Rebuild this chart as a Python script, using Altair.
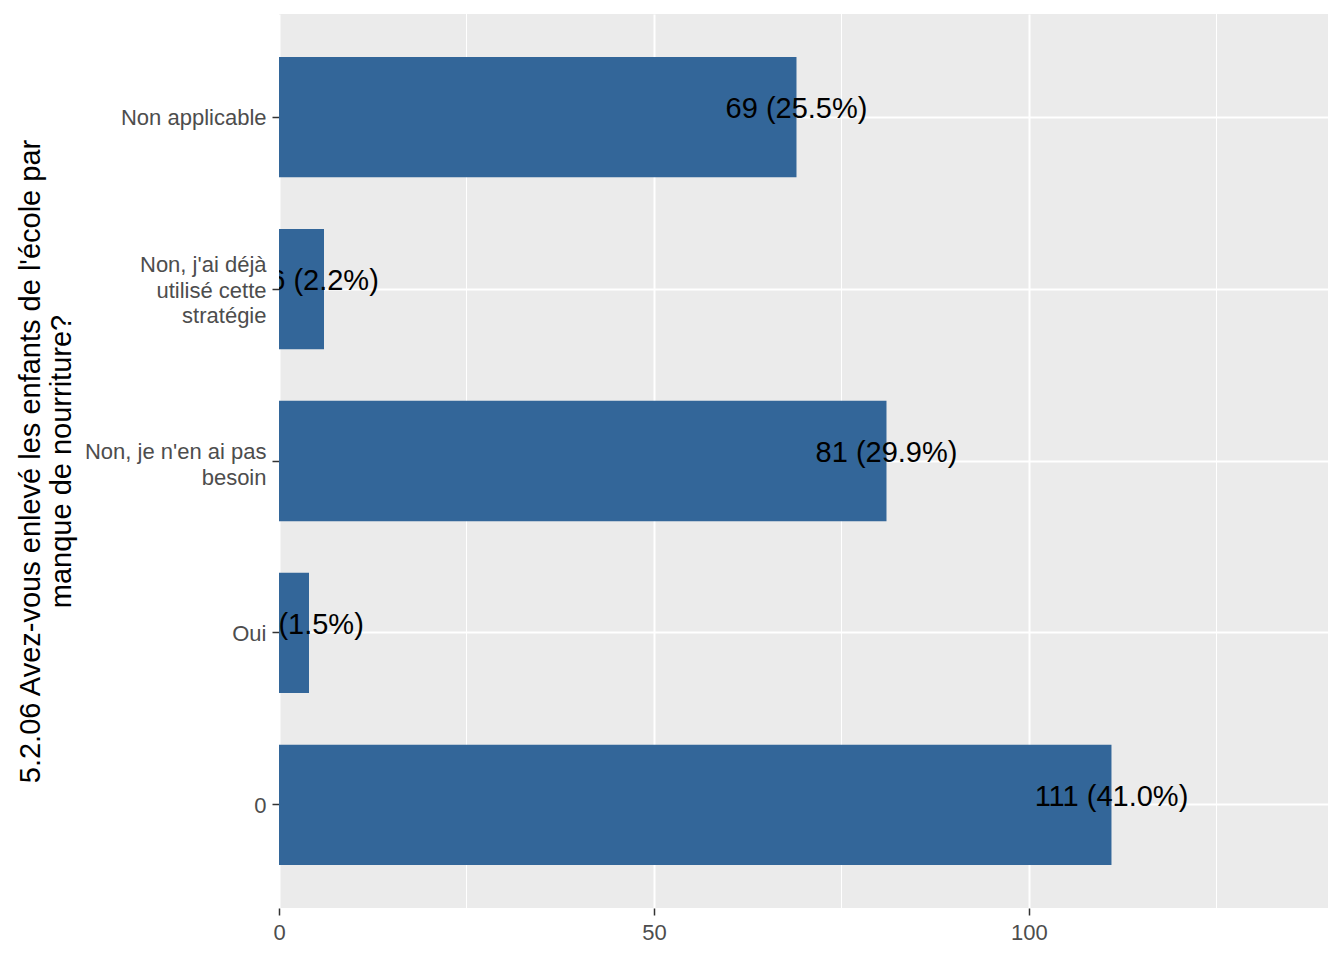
import altair as alt
import pandas as pd

categories = ["Non applicable", "Non, j'ai déjà\nutilisé cette\nstratégie",
              "Non, je n'en ai pas\nbesoin", "Oui", "0"]
counts = [69, 6, 81, 4, 111]
labels = ["69 (25.5%)", "6 (2.2%)", "81 (29.9%)", "4 (1.5%)", "111 (41.0%)"]
major_ticks = [0, 50, 100]
minor_ticks = [25, 75, 125]
x_max = 139.87

df = pd.DataFrame({"cat": categories, "n": counts, "lab": labels})
minor_df = pd.DataFrame({"v": minor_ticks})

FONT = "Liberation Sans"

xscale = alt.Scale(domain=[0, x_max], nice=False, zero=True)
yscale = alt.Scale(domain=categories, paddingInner=0.3, paddingOuter=0.25)

nlines = "length(split(datum.label, '\\n'))"

xenc = alt.X("n:Q", scale=xscale,
             axis=alt.Axis(values=major_ticks, title=None, grid=True, gridColor="white",
                           gridWidth=2, domain=False, tickColor="#333333", tickSize=7,
                           tickWidth=1.5, labelFontSize=22, labelColor="#4D4D4D",
                           labelFont=FONT, labelPadding=7, labelFlush=False, format="d"))
yenc = alt.Y("cat:N", scale=yscale, sort=categories,
             axis=alt.Axis(title=["5.2.06 Avez-vous enlevé les enfants de l'école par",
                                  "manque de nourriture?"],
                           titleFontSize=29, titleFont=FONT, titleColor="black",
                           titleFontWeight="normal", titleAngle=270,
                           titleX=-249, titleY=447, titleAlign="center",
                           titleBaseline="middle", titleLineHeight=31,
                           grid=True, gridColor="white", gridWidth=2, domain=False,
                           tickColor="#333333", tickSize=7, tickWidth=1.5,
                           labelFontSize=22, labelColor="#4D4D4D", labelFont=FONT,
                           labelPadding=6, labelLineHeight=25.5, labelLimit=400,
                           labelOffset={"condition": [
                               {"test": nlines + " == 3", "value": -24},
                               {"test": nlines + " == 2", "value": -9}],
                               "value": 1},
                           labelExpr="split(datum.label, '\\n')"))

minor = alt.Chart(minor_df).mark_rule(color="white", strokeWidth=1).encode(
    x=alt.X("v:Q", scale=xscale))

bars = alt.Chart(df).mark_bar(color="#336699").encode(x=xenc, y=yenc)

text = alt.Chart(df).mark_text(fontSize=29, font=FONT, color="black", align="center",
                               baseline="middle", clip=True, dy=-8).encode(
    x=alt.X("n:Q", scale=xscale), y=alt.Y("cat:N", scale=yscale, sort=categories),
    text="lab:N")

chart = alt.layer(minor, bars, text).properties(
    width=1049, height=894,
    padding={"left": 271, "top": 6, "right": 8, "bottom": 44},
    autosize=alt.AutoSizeParams(type="none"),
    background="white",
).configure_view(fill="#EBEBEB", stroke=None)

chart.save("out.html", embed_options={"renderer": "svg", "actions": False})
